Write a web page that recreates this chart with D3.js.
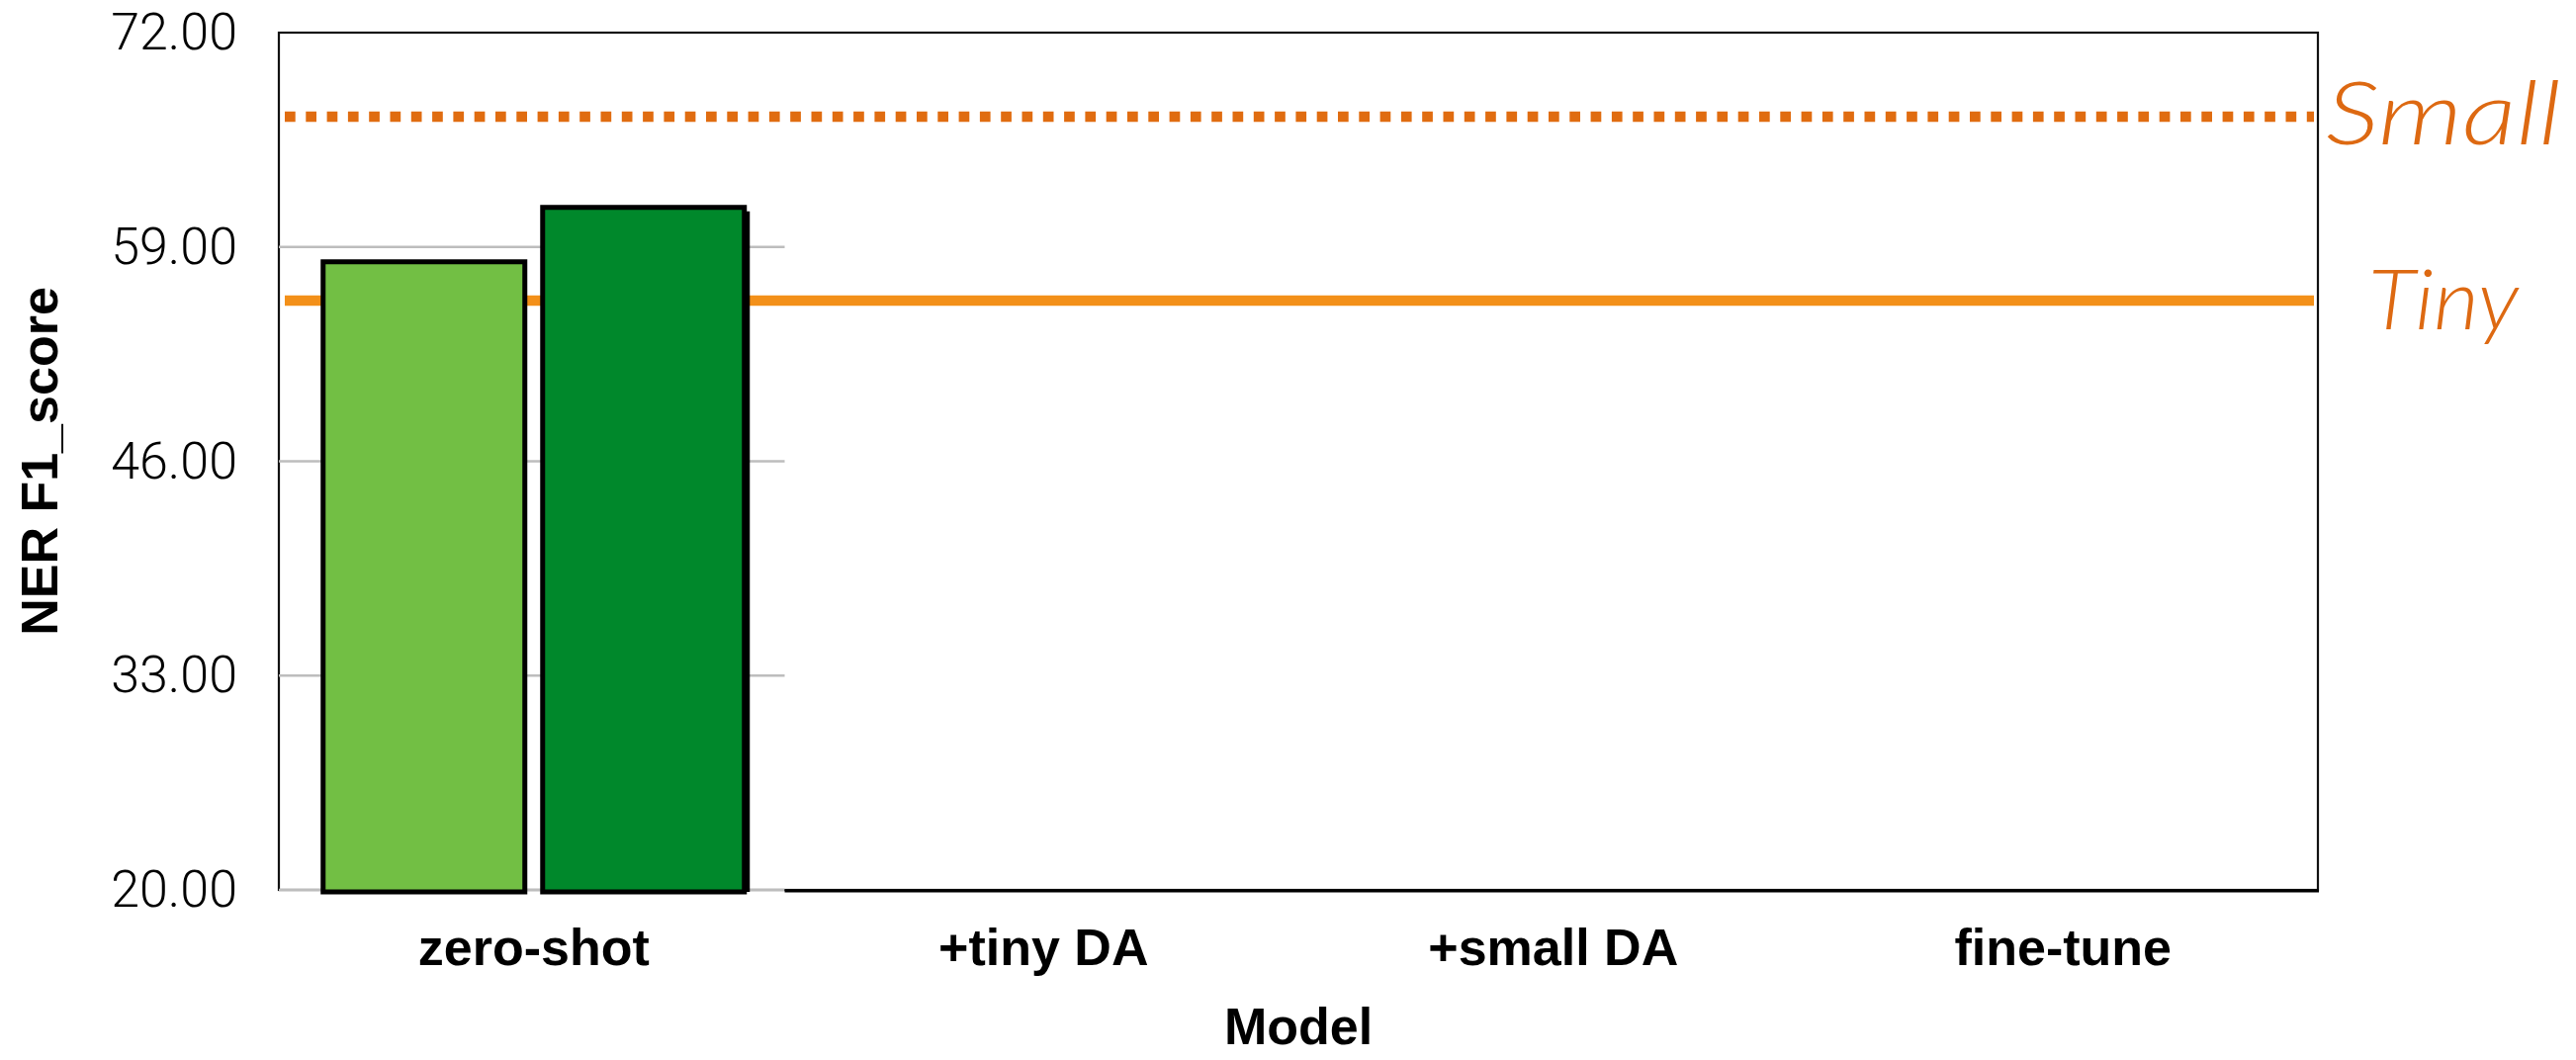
<!DOCTYPE html>
<html>
<head>
<meta charset="utf-8">
<script src="https://cdn.jsdelivr.net/npm/d3@7"></script>
<style>
  html, body { margin: 0; padding: 0; background: #ffffff; }
  svg { display: block; }
</style>
</head>
<body>
<svg id="chart" width="2605" height="1072"></svg>
<script>
// NER F1 scores per training setup, with reference levels for the Tiny and Small models
const categories = ["zero-shot", "+tiny DA", "+small DA", "fine-tune"];
const seriesNames = ["base", "large"];
const baseScores = [58.1, null, null, null];
const largeScores = [61.4, null, null, null];
const refNames = ["Small", "Tiny"];
const refScores = [66.9, 55.75];
const yTicks = [20, 33, 46, 59, 72];
const gridTicks = [20, 33, 46, 59];

const seriesColors = ["#72BF44", "#00882B"];
const refColors = ["#E06C10", "#F39019"];
const refDash = ["10.7 10.6", null];

const width = 2605, height = 1072;
const plot = { left: 282, right: 2344, top: 33, bottom: 900 };

const svg = d3.select("#chart");

const y = d3.scaleLinear().domain([20, 72]).range([plot.bottom, plot.top]);
const x0 = d3.scaleBand().domain(categories).range([plot.left, plot.right]).padding(0);
const groupWidth = 426;
const x1 = d3.scaleBand().domain(seriesNames)
  .range([(x0.bandwidth() - groupWidth) / 2, (x0.bandwidth() + groupWidth) / 2])
  .paddingInner(18 / 222).paddingOuter(0);

const rows = categories.map((c, i) => ({
  category: c,
  values: [
    { key: seriesNames[0], value: baseScores[i], color: seriesColors[0] },
    { key: seriesNames[1], value: largeScores[i], color: seriesColors[1] }
  ]
}));

// plot frame
svg.append("rect")
  .attr("x", plot.left).attr("y", plot.top)
  .attr("width", plot.right - plot.left).attr("height", plot.bottom - plot.top)
  .attr("fill", "none").attr("stroke", "#111").attr("stroke-width", 2.2);

// gridlines over the first group only
const gridEnd = x0(categories[1]) - 4;
svg.append("g").selectAll("line").data(gridTicks).join("line")
  .attr("x1", plot.left).attr("x2", gridEnd)
  .attr("y1", d => y(d)).attr("y2", d => y(d))
  .attr("stroke", "#BDBDBD").attr("stroke-width", 2.6);

// heavier baseline to the right of the grid
svg.append("line")
  .attr("x1", gridEnd).attr("x2", plot.right + 1)
  .attr("y1", y(20) + 1).attr("y2", y(20) + 1)
  .attr("stroke", "#000").attr("stroke-width", 3);

// reference lines
svg.append("g").selectAll("line").data(refNames).join("line")
  .attr("x1", plot.left + 6).attr("x2", plot.right - 4)
  .attr("y1", (d, i) => y(refScores[i])).attr("y2", (d, i) => y(refScores[i]))
  .attr("stroke", (d, i) => refColors[i])
  .attr("stroke-width", 10.5)
  .attr("stroke-dasharray", (d, i) => refDash[i]);

// bars
const groups = svg.append("g").selectAll("g").data(rows).join("g")
  .attr("transform", d => `translate(${x0(d.category)},0)`);

const bars = groups.selectAll("g.bar")
  .data(d => d.values.filter(v => v.value != null))
  .join("g").attr("class", "bar");

// drop shadow on the second series
bars.filter(d => d.key === seriesNames[1]).append("rect")
  .attr("x", d => x1(d.key) + 5.5)
  .attr("y", d => y(d.value) + 4)
  .attr("width", x1.bandwidth())
  .attr("height", d => y(20) + 2 - y(d.value) - 4)
  .attr("fill", "#000");

bars.append("rect")
  .attr("x", d => x1(d.key))
  .attr("y", d => y(d.value))
  .attr("width", x1.bandwidth())
  .attr("height", d => y(20) + 2 - y(d.value))
  .attr("fill", d => d.color)
  .attr("stroke", "#000")
  .attr("stroke-width", 5);

// y axis
const yAxis = svg.append("g")
  .attr("transform", `translate(${plot.left},0)`)
  .call(d3.axisLeft(y).tickValues(yTicks).tickFormat(d3.format(".2f")).tickSize(0).tickPadding(42));
yAxis.select(".domain").remove();
yAxis.selectAll("text")
  .attr("font-family", "Roboto, 'Liberation Sans', sans-serif")
  .attr("font-weight", 300)
  .attr("font-size", 52)
  .attr("fill", "#000");

// x axis
const xAxis = svg.append("g")
  .attr("transform", `translate(0,${plot.bottom})`)
  .call(d3.axisBottom(x0).tickSize(0).tickPadding(0));
xAxis.select(".domain").remove();
xAxis.selectAll("text")
  .attr("y", 76).attr("dy", null)
  .attr("font-family", "'Liberation Sans', Arial, sans-serif")
  .attr("font-weight", 700)
  .attr("font-size", 52)
  .attr("fill", "#000");

// axis titles
svg.append("text")
  .attr("x", (plot.left + plot.right) / 2).attr("y", 1056)
  .attr("text-anchor", "middle")
  .attr("font-family", "'Liberation Sans', Arial, sans-serif")
  .attr("font-weight", 700).attr("font-size", 52)
  .text("Model");

svg.append("text")
  .attr("transform", `translate(58,${(plot.top + plot.bottom) / 2}) rotate(-90)`)
  .attr("text-anchor", "middle")
  .attr("font-family", "'Liberation Sans', Arial, sans-serif")
  .attr("font-weight", 700).attr("font-size", 52)
  .text("NER F1_score");

// reference line labels
const refLabelPos = [
  { x: 2352, y: 146, size: 88, len: 238 },
  { x: 2395, y: 333, size: 84, len: 152 }
];
svg.append("g").selectAll("text").data(refNames).join("text")
  .attr("x", (d, i) => refLabelPos[i].x)
  .attr("y", (d, i) => refLabelPos[i].y)
  .attr("font-family", "Lato, 'Open Sans', sans-serif")
  .attr("font-style", "italic")
  .attr("font-weight", 300)
  .attr("font-size", (d, i) => refLabelPos[i].size)
  .attr("textLength", (d, i) => refLabelPos[i].len)
  .attr("lengthAdjust", "spacingAndGlyphs")
  .attr("fill", "#DD6912")
  .text(d => d);
</script>
</body>
</html>
